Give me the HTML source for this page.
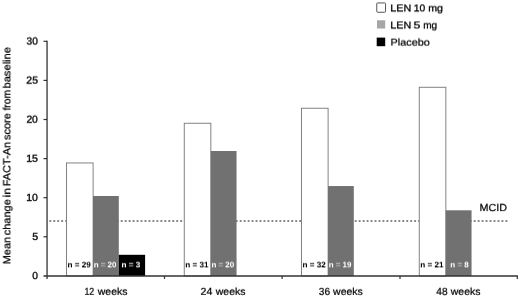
<!DOCTYPE html>
<html>
<head>
<meta charset="utf-8">
<title>Mean change in FACT-An score from baseline</title>
<style>
html,body{margin:0;padding:0;background:#fff;}
body{width:520px;height:297px;overflow:hidden;}
svg{display:block;}
text{font-family:"Liberation Sans",Arial,sans-serif;text-rendering:geometricPrecision;stroke:#000;stroke-width:0.22px;}
.b{stroke-width:0.34px;}
.c{stroke-width:0.3px;}
.w{fill:#fff;stroke:#fff;}
.q{fill:#b4b4b4;stroke:#b4b4b4;}
.n text{font-weight:bold;stroke:none;}
</style>
</head>
<body>
<svg width="520" height="297" viewBox="0 0 520 297">
<defs>
<filter id="f0" x="-20%" y="-30%" width="140%" height="160%" color-interpolation-filters="sRGB"><feConvolveMatrix order="5 5" kernelMatrix="0 0 0 0 0  0 0 -0.0720 0 0  0 0 0.6960 0 0  0 0 0.4240 0 0  0 0 -0.0480 0 0" divisor="1" preserveAlpha="false"/></filter>
<filter id="f1" x="-20%" y="-30%" width="140%" height="160%" color-interpolation-filters="sRGB"><feConvolveMatrix order="5 5" kernelMatrix="0 0 -0.0018 0 0  0 -0.0005 -0.0411 -0.0005 0  0 0.0070 0.5291 0.0070 0  0 0.0070 0.5291 0.0070 0  0 -0.0005 -0.0411 -0.0005 0" divisor="1" preserveAlpha="false"/></filter>
<filter id="f2" x="-20%" y="-30%" width="140%" height="160%" color-interpolation-filters="sRGB"><feConvolveMatrix order="5 5" kernelMatrix="0 -0.0004 -0.0318 -0.0004 0  0 0.0054 0.4067 0.0054 0  0 0.0086 0.6473 0.0086 0  0 -0.0006 -0.0459 -0.0006 0  0 0 -0.0021 0 0" divisor="1" preserveAlpha="false"/></filter>
<filter id="f3" x="-20%" y="-30%" width="140%" height="160%" color-interpolation-filters="sRGB"><feConvolveMatrix order="5 5" kernelMatrix="0 -0.0003 -0.0205 -0.0003 0  0 0.0038 0.2877 0.0038 0  0 0.0100 0.7531 0.0100 0  0 -0.0006 -0.0439 -0.0006 0  0 0 -0.0021 0 0" divisor="1" preserveAlpha="false"/></filter>
<filter id="f4" x="-20%" y="-30%" width="140%" height="160%" color-interpolation-filters="sRGB"><feConvolveMatrix order="5 5" kernelMatrix="0 -0.0001 -0.0098 -0.0001 0  0 0.0024 0.1797 0.0024 0  0 0.0111 0.8387 0.0111 0  0 -0.0004 -0.0324 -0.0004 0  0 0 -0.0018 0 0" divisor="1" preserveAlpha="false"/></filter>
<filter id="f5" x="-20%" y="-30%" width="140%" height="160%" color-interpolation-filters="sRGB"><feConvolveMatrix order="5 5" kernelMatrix="0 0 -0.0022 0 0  0 0.0012 0.0907 0.0012 0  0 0.0119 0.8959 0.0119 0  0 -0.0001 -0.0091 -0.0001 0  0 0 -0.0012 0 0" divisor="1" preserveAlpha="false"/></filter>
<filter id="f6" x="-20%" y="-30%" width="140%" height="160%" color-interpolation-filters="sRGB"><feConvolveMatrix order="5 5" kernelMatrix="0 0 0 0 0  0 0.0004 0.0287 0.0004 0  0 0.0121 0.9167 0.0121 0  0 0.0004 0.0287 0.0004 0  0 0 0 0 0" divisor="1" preserveAlpha="false"/></filter>
<filter id="f7" x="-20%" y="-30%" width="140%" height="160%" color-interpolation-filters="sRGB"><feConvolveMatrix order="5 5" kernelMatrix="0 0 -0.0012 0 0  0 -0.0001 -0.0091 -0.0001 0  0 0.0119 0.8959 0.0119 0  0 0.0012 0.0907 0.0012 0  0 0 -0.0022 0 0" divisor="1" preserveAlpha="false"/></filter>
<filter id="f8" filterUnits="userSpaceOnUse" x="0" y="30" width="20" height="250" color-interpolation-filters="sRGB"><feConvolveMatrix order="5 5" kernelMatrix="0 0 0 0 0  0 -0.0018 0.0201 0.0124 -0.0012  -0.0009 -0.0575 0.6419 0.3963 -0.0388  0 -0.0018 0.0201 0.0124 -0.0012  0 0 0 0 0" divisor="1" preserveAlpha="false"/></filter>
<filter id="f9" x="-20%" y="-30%" width="140%" height="160%" color-interpolation-filters="sRGB"><feConvolveMatrix order="5 5" kernelMatrix="0 0 -0.0021 0 0  0 -0.0006 -0.0459 -0.0006 0  0 0.0086 0.6473 0.0086 0  0 0.0054 0.4067 0.0054 0  0 -0.0004 -0.0318 -0.0004 0" divisor="1" preserveAlpha="false"/></filter>
<filter id="f10" x="-20%" y="-30%" width="140%" height="160%" color-interpolation-filters="sRGB"><feConvolveMatrix order="5 5" kernelMatrix="0 0 -0.0020 0 0  0 -0.0006 -0.0442 -0.0006 0  0 0.0078 0.5892 0.0078 0  0 0.0062 0.4680 0.0062 0  0 -0.0005 -0.0368 -0.0005 0" divisor="1" preserveAlpha="false"/></filter>
<filter id="f11" x="-20%" y="-30%" width="140%" height="160%" color-interpolation-filters="sRGB"><feConvolveMatrix order="5 5" kernelMatrix="0 0 -0.0016 0 0  0 -0.0003 -0.0224 -0.0003 0  0 0.0115 0.8713 0.0115 0  0 0.0018 0.1323 0.0018 0  0 -0.0001 -0.0055 -0.0001 0" divisor="1" preserveAlpha="false"/></filter>
</defs>
<rect x="0" y="0" width="520" height="297" fill="#fff"/>

<!-- MCID dotted line -->
<line x1="49.35" y1="221.0" x2="507.6" y2="221.0" stroke="#606060" stroke-width="1.7" stroke-dasharray="1.9 2.066"/>

<!-- bars -->
<g>
<rect x="66.50" y="162.97" width="26.6" height="113.03" fill="#fff" stroke="#757575" stroke-width="0.9"/>
<rect x="93.00" y="195.98" width="25.8" height="80.02" fill="#717171"/>
<rect x="118.80" y="254.80" width="26.3" height="21.20" fill="#000"/>
<rect x="184.25" y="123.24" width="26.6" height="152.76" fill="#fff" stroke="#757575" stroke-width="0.9"/>
<rect x="210.75" y="151.00" width="25.8" height="125.00" fill="#717171"/>
<rect x="301.50" y="108.22" width="26.6" height="167.78" fill="#fff" stroke="#757575" stroke-width="0.9"/>
<rect x="328.00" y="186.05" width="25.8" height="89.95" fill="#717171"/>
<rect x="419.25" y="87.26" width="26.6" height="188.74" fill="#fff" stroke="#757575" stroke-width="0.9"/>
<rect x="445.75" y="210.30" width="25.8" height="65.70" fill="#717171"/>
</g>

<!-- axes -->
<g stroke="#333" stroke-width="1.3" fill="none">
<line x1="47.05" y1="40.7" x2="47.05" y2="279"/>
<line x1="43.5" y1="276.0" x2="517.9" y2="276.0"/>
</g>
<g stroke="#333" stroke-width="1.2" fill="none">
<line x1="43.5" y1="41.3" x2="47.05" y2="41.3"/>
<line x1="43.5" y1="80.4" x2="47.05" y2="80.4"/>
<line x1="43.5" y1="119.5" x2="47.05" y2="119.5"/>
<line x1="43.5" y1="158.6" x2="47.05" y2="158.6"/>
<line x1="43.5" y1="197.7" x2="47.05" y2="197.7"/>
<line x1="43.5" y1="236.8" x2="47.05" y2="236.8"/>
<line x1="164.5" y1="276.0" x2="164.5" y2="279"/>
<line x1="282.1" y1="276.0" x2="282.1" y2="279"/>
<line x1="400.0" y1="276.0" x2="400.0" y2="279"/>
<line x1="517.3" y1="276.0" x2="517.3" y2="279"/>
</g>

<!-- y tick labels -->
<g>
<text x="26.56" y="44" class="b" font-size="10.3" textLength="11.31" lengthAdjust="spacingAndGlyphs" filter="url(#f1)">30</text>
<text x="26.39" y="84" class="b" font-size="10.3" textLength="11.66" lengthAdjust="spacingAndGlyphs" filter="url(#f2)">25</text>
<text x="26.40" y="123" class="b" font-size="10.3" textLength="11.48" lengthAdjust="spacingAndGlyphs" filter="url(#f3)">20</text>
<text x="26.21" y="162" class="b" font-size="10.3" textLength="11.84" lengthAdjust="spacingAndGlyphs" filter="url(#f4)">15</text>
<text x="26.23" y="201" class="b" font-size="10.3" textLength="11.66" lengthAdjust="spacingAndGlyphs" filter="url(#f5)">10</text>
<text x="32.15" y="240" class="b" font-size="10.3" textLength="5.90" lengthAdjust="spacingAndGlyphs" filter="url(#f6)">5</text>
<text x="32.16" y="279" class="b" font-size="10.3" textLength="5.72" lengthAdjust="spacingAndGlyphs" filter="url(#f7)">0</text>
</g>

<!-- y axis title -->
<g filter="url(#f8)"><g transform="translate(10,0) rotate(-90)">
<text x="-264.22" y="0" font-size="10.4" textLength="27.20" lengthAdjust="spacingAndGlyphs">Mean</text>
<text x="-235.21" y="0" font-size="10.4" textLength="35.93" lengthAdjust="spacingAndGlyphs">change</text>
<text x="-197.43" y="0" font-size="10.4" textLength="9.49" lengthAdjust="spacingAndGlyphs">in</text>
<text x="-186.22" y="0" font-size="10.4" textLength="44.20" lengthAdjust="spacingAndGlyphs">FACT-An</text>
<text x="-140.04" y="0" font-size="10.4" textLength="26.86" lengthAdjust="spacingAndGlyphs">score</text>
<text x="-110.57" y="0" font-size="10.4" textLength="20.57" lengthAdjust="spacingAndGlyphs">from</text>
<text x="-88.57" y="0" font-size="10.4" textLength="41.59" lengthAdjust="spacingAndGlyphs">baseline</text>
</g></g>

<!-- x labels -->
<g>
<text x="84.38" y="295" font-size="10.2" textLength="9.85" lengthAdjust="spacingAndGlyphs" filter="url(#f5)">12</text>
<text x="97.79" y="295" font-size="10.2" textLength="29.80" lengthAdjust="spacingAndGlyphs" filter="url(#f5)">weeks</text>
<text x="200.63" y="295" font-size="10.2" textLength="11.80" lengthAdjust="spacingAndGlyphs" filter="url(#f5)">24</text>
<text x="215.79" y="295" font-size="10.2" textLength="29.70" lengthAdjust="spacingAndGlyphs" filter="url(#f5)">weeks</text>
<text x="318.81" y="295" font-size="10.2" textLength="11.27" lengthAdjust="spacingAndGlyphs" filter="url(#f5)">36</text>
<text x="333.09" y="295" font-size="10.2" textLength="29.70" lengthAdjust="spacingAndGlyphs" filter="url(#f5)">weeks</text>
<text x="436.27" y="295" font-size="10.2" textLength="11.31" lengthAdjust="spacingAndGlyphs" filter="url(#f5)">48</text>
<text x="450.79" y="295" font-size="10.2" textLength="29.70" lengthAdjust="spacingAndGlyphs" filter="url(#f5)">weeks</text>
</g>

<!-- n labels -->
<g class="n">
<text x="67.52" y="267" font-size="8.0" textLength="23.25" lengthAdjust="spacingAndGlyphs" filter="url(#f0)">n = 29</text>
<text x="93.63" y="267" class="w" font-size="8.0" textLength="22.86" lengthAdjust="spacingAndGlyphs" filter="url(#f0)">n <tspan class="q">=</tspan> 20</text>
<text x="121.62" y="267" class="w" font-size="8.0" textLength="18.65" lengthAdjust="spacingAndGlyphs" filter="url(#f0)">n <tspan class="q">=</tspan> 3</text>
<text x="185.27" y="267" font-size="8.0" textLength="23.25" lengthAdjust="spacingAndGlyphs" filter="url(#f0)">n = 31</text>
<text x="211.38" y="267" class="w" font-size="8.0" textLength="22.86" lengthAdjust="spacingAndGlyphs" filter="url(#f0)">n <tspan class="q">=</tspan> 20</text>
<text x="302.52" y="267" font-size="8.0" textLength="23.25" lengthAdjust="spacingAndGlyphs" filter="url(#f0)">n = 32</text>
<text x="328.63" y="267" class="w" font-size="8.0" textLength="22.73" lengthAdjust="spacingAndGlyphs" filter="url(#f0)">n <tspan class="q">=</tspan> 19</text>
<text x="420.27" y="267" font-size="8.0" textLength="23.25" lengthAdjust="spacingAndGlyphs" filter="url(#f0)">n = 21</text>
<text x="450.28" y="267" class="w" font-size="8.0" textLength="18.44" lengthAdjust="spacingAndGlyphs" filter="url(#f0)">n <tspan class="q">=</tspan> 8</text>
</g>

<!-- MCID -->
<text x="479.59" y="211" font-size="10.4" textLength="27.56" lengthAdjust="spacingAndGlyphs" filter="url(#f11)">MCID</text>

<!-- legend -->
<rect x="376.75" y="2.95" width="8.8" height="9.3" rx="0.8" fill="#fff" stroke="#555" stroke-width="1"/>
<rect x="377" y="20.3" width="8.2" height="8.2" fill="#a6a6a6"/>
<rect x="376.7" y="37.6" width="8.5" height="8.6" fill="#000"/>
<g>
<text x="390.29" y="11" class="c" font-size="9.9" textLength="20.85" lengthAdjust="spacingAndGlyphs" filter="url(#f9)">LEN</text>
<text x="413.69" y="11" class="c" font-size="9.9" textLength="11.44" lengthAdjust="spacingAndGlyphs" filter="url(#f9)">10</text>
<text x="428.27" y="11" class="c" font-size="9.9" textLength="14.70" lengthAdjust="spacingAndGlyphs" filter="url(#f9)">mg</text>
<text x="390.29" y="28" class="c" font-size="9.9" textLength="20.85" lengthAdjust="spacingAndGlyphs" filter="url(#f10)">LEN</text>
<text x="413.64" y="28" class="c" font-size="9.9" textLength="6.94" lengthAdjust="spacingAndGlyphs" filter="url(#f10)">5</text>
<text x="423.20" y="28" class="c" font-size="9.9" textLength="13.93" lengthAdjust="spacingAndGlyphs" filter="url(#f10)">mg</text>
<text x="390.58" y="46" font-size="9.9" textLength="39.12" lengthAdjust="spacingAndGlyphs" filter="url(#f2)">Placebo</text>
</g>
</svg>
</body>
</html>
